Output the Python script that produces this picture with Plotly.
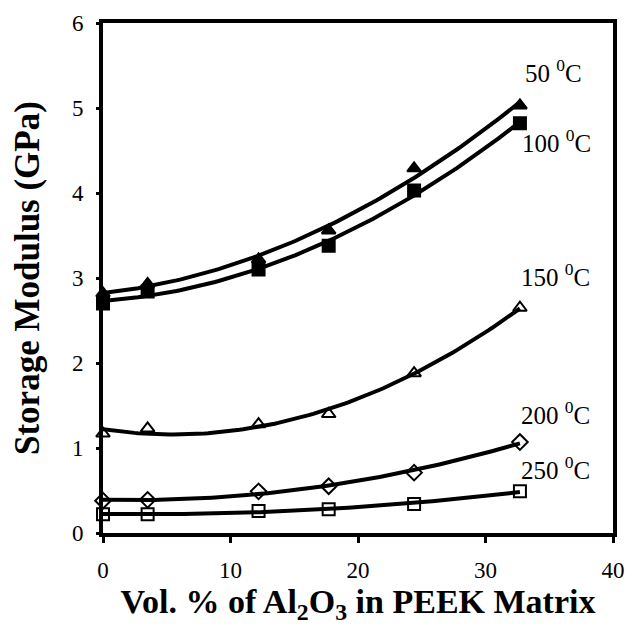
import numpy as np
import plotly.graph_objects as go

# Alumina content (vol. %) of the PEEK composites
vol_pct = [0, 3.5, 12.2, 17.7, 24.4, 32.7]

# Storage modulus (GPa) at each test temperature
e_50 = [2.82, 2.93, 3.22, 3.56, 4.29, 5.03]
e_100 = [2.70, 2.84, 3.10, 3.38, 4.03, 4.82]
e_150 = [1.17, 1.23, 1.28, 1.40, 1.88, 2.65]
e_200 = [0.38, 0.39, 0.49, 0.55, 0.71, 1.07]
e_250 = [0.22, 0.22, 0.26, 0.28, 0.34, 0.49]

temp_labels = ["50", "100", "150", "200", "250"]
label_x = [35.3, 35.6, 35.5, 35.5, 35.5]
label_y = [5.44, 4.61, 3.03, 1.41, 0.77]

x_ticks = [0, 10, 20, 30, 40]
y_ticks = [0, 1, 2, 3, 4, 5, 6]

series = [
    (e_50, "triangle-up", "black"),
    (e_100, "square", "black"),
    (e_150, "triangle-up-open", "black"),
    (e_200, "diamond-open", "black"),
    (e_250, "square-open", "black"),
]

fig = go.Figure()
xs = np.linspace(min(vol_pct), max(vol_pct), 120)
for vals, sym, col in series:
    # second-order trend line through each temperature series
    coef = np.polyfit(vol_pct, vals, 2)
    fig.add_trace(go.Scatter(
        x=xs, y=np.polyval(coef, xs), mode="lines",
        line=dict(color="black", width=4), showlegend=False,
        hoverinfo="skip",
    ))
    fig.add_trace(go.Scatter(
        x=vol_pct, y=vals, mode="markers",
        marker=dict(symbol=sym, size=12, color=col,
                    line=dict(color="black", width=2)),
        showlegend=False, cliponaxis=False,
    ))

serif = "Liberation Serif, Times New Roman, serif"
for t, lx, ly in zip(temp_labels, label_x, label_y):
    fig.add_annotation(
        x=lx, y=ly, text=f"{t} <sup>0</sup>C", showarrow=False,
        xanchor="center", yanchor="middle",
        font=dict(family=serif, size=25, color="black"),
    )

# y-axis numbers, set a fixed distance left of the axis line
for v in y_ticks:
    fig.add_annotation(
        x=0, xref="paper", y=v, yref="y", xshift=-25, text=str(v),
        showarrow=False, xanchor="center", yanchor="middle",
        font=dict(family=serif, size=23, color="black"),
    )

# y-axis title
fig.add_annotation(
    x=0, xref="paper", y=0.5, yref="paper", xshift=-76,
    text="<b>Storage Modulus (GPa)</b>", textangle=-90,
    showarrow=False, xanchor="center", yanchor="middle",
    font=dict(family=serif, size=35, color="black"),
)

axis_common = dict(
    showline=True, linecolor="black", linewidth=3.5, mirror=True,
    showgrid=False, zeroline=False, ticks="outside", tickcolor="black",
    tickwidth=3, tickfont=dict(family=serif, size=23, color="black"),
)

fig.update_xaxes(
    range=[0, 40], tickvals=x_ticks, ticklen=6, ticklabelstandoff=8,
    title=dict(text="<b>Vol. % of Al<sub>2</sub>O<sub>3</sub> in PEEK Matrix</b>",
               font=dict(family=serif, size=34, color="black"), standoff=6),
    **axis_common,
)
fig.update_yaxes(
    range=[0, 6], tickvals=y_ticks, ticklen=3, showticklabels=False,
    **axis_common,
)

fig.update_layout(
    width=637, height=629,
    margin=dict(l=103, r=15, t=23, b=96),
    plot_bgcolor="white", paper_bgcolor="white",
)

fig.write_html("out.html")
